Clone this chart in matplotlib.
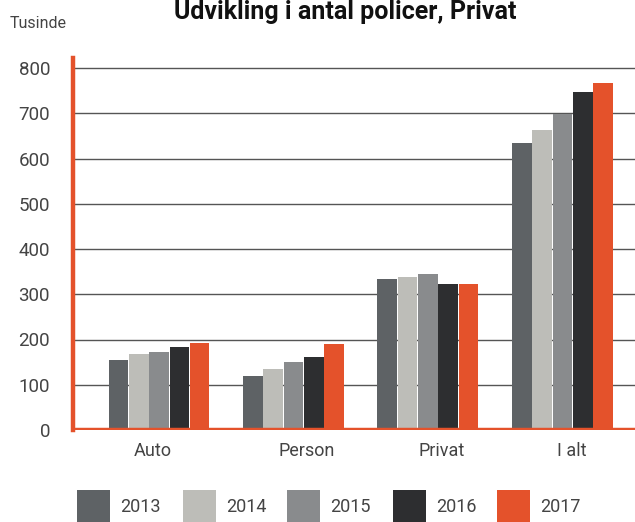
import matplotlib
matplotlib.use("Agg")
import matplotlib.pyplot as plt
from matplotlib.patches import Rectangle
import numpy as np

plt.rcParams['font.family'] = ['Roboto', 'DejaVu Sans']

# policy counts in thousands
categories = ['Auto', 'Person', 'Privat', 'I alt']
years = ['2013', '2014', '2015', '2016', '2017']
v2013 = [154, 119, 334, 634]
v2014 = [168, 135, 338, 663]
v2015 = [172, 150, 345, 698]
v2016 = [183, 161, 323, 747]
v2017 = [192, 190, 323, 767]
yticks = [0, 100, 200, 300, 400, 500, 600, 700, 800]

series = [v2013, v2014, v2015, v2016, v2017]
colors = ['#5e6265', '#bdbdb8', '#898b8d', '#2d2e30', '#e4522b']
red = '#e4522b'
txt = '#444444'

W, H = 635, 522
fig = plt.figure(figsize=(W / 100, H / 100), dpi=100)
ax = fig.add_axes([73 / W, 1 - 430 / H, 1 - 73 / W, (430 - 58) / H])

x = np.arange(len(categories))
bw = 0.151
for i, (vals, c) in enumerate(zip(series, colors)):
    ax.bar(x + (i - 2) * bw, vals, width=bw * 0.97, color=c, zorder=3)

ax.set_xlim(-0.64, 3.54)
ax.set_ylim(0, 800 * 372 / 362)

for t in yticks[1:]:
    ax.axhline(t, color='#555555', lw=1.0, zorder=1)
ax.axhline(0, color=red, lw=3.2, zorder=4)
ax.axvline(-0.64, color=red, lw=3.2, zorder=4, clip_on=False)

for s in ax.spines.values():
    s.set_visible(False)
ax.set_yticks(yticks)
ax.set_yticklabels([str(t) for t in yticks], fontsize=13.5, color=txt)
ax.tick_params(axis='y', length=0, pad=16.5)
ax.set_xticks([-0.045, 1.10, 2.10, 3.07])
ax.set_xticklabels(categories, fontsize=13, color=txt)
ax.tick_params(axis='x', length=0, pad=9)

fig.text(345 / W, 1 - 19 / H, 'Udvikling i antal policer, Privat',
         ha='center', va='baseline', fontsize=18, fontweight='bold', color='#111111')
fig.text(10 / W, 1 - 23 / H, 'Tusinde', ha='left', va='center', fontsize=11.5, color=txt)

# legend row along the bottom
lx = [77, 183, 287, 393, 497]
for px, c, lab in zip(lx, colors, years):
    fig.add_artist(Rectangle((px / W, 0), 33 / W, 32 / H,
                             transform=fig.transFigure, color=c, lw=0))
    fig.text((px + 43) / W, 1 - 507 / H, lab, ha='left', va='center',
             fontsize=13, color=txt)

fig.savefig('out.png', dpi=100)
